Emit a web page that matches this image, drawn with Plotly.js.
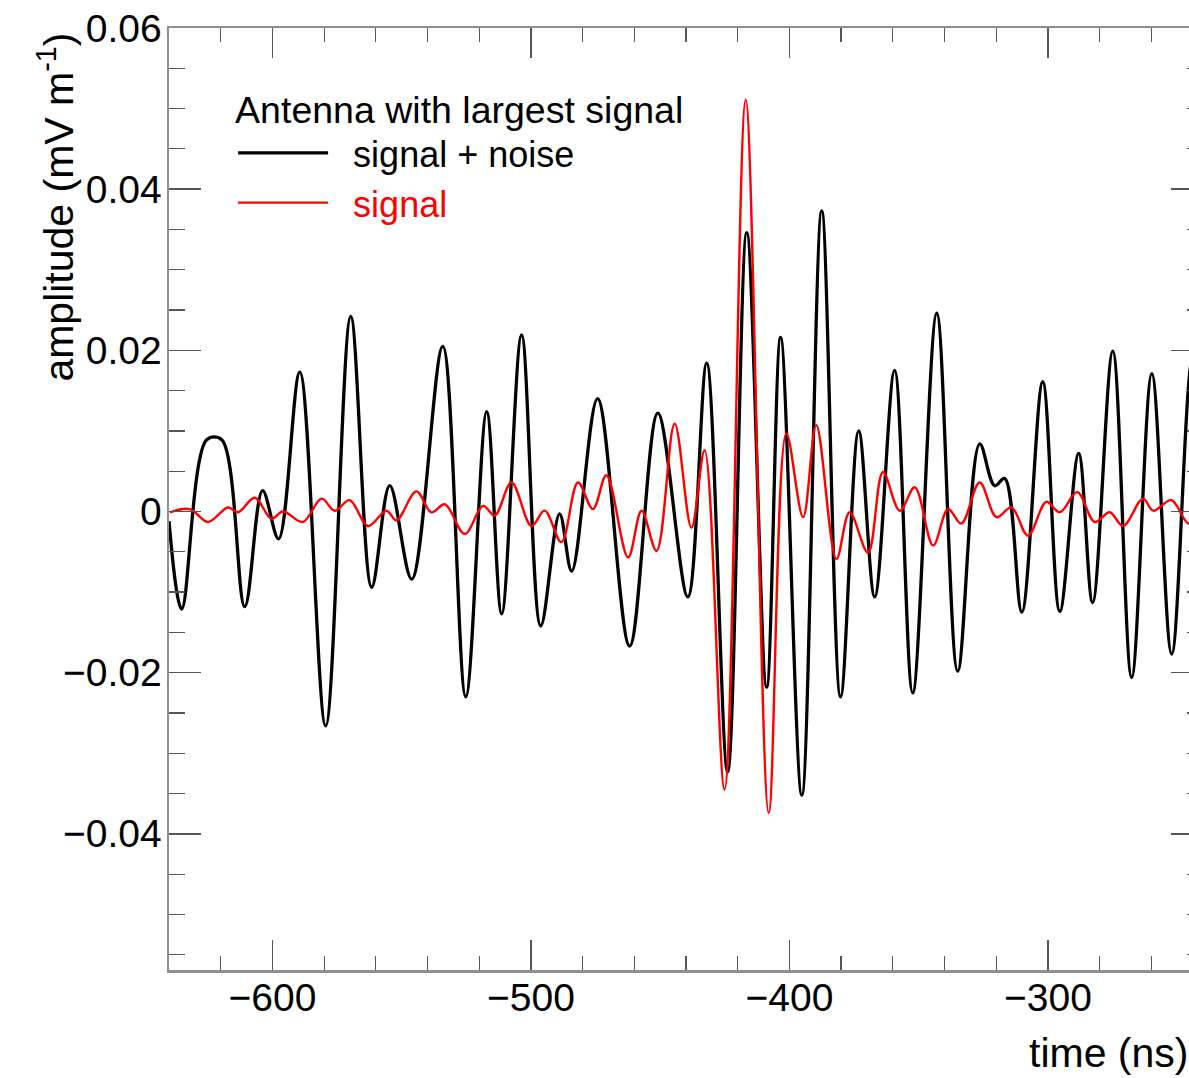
<!DOCTYPE html>
<html>
<head>
<meta charset="utf-8">
<script src="https://cdn.plot.ly/plotly-3.0.1.min.js"></script>
<style>
  html, body { margin: 0; padding: 0; overflow: hidden; background: #fff; }
  #chart { width: 1205px; height: 1078px; }
</style>
</head>
<body>
<div id="chart"></div>
<script>
// time (ns) and amplitude (mV m^-1) of the "signal + noise" trace
const noiseTime = [-640, -635.1, -625.4, -619.6, -610.7, -603.8, -597.6, -589.4, -579.4, -569.7,
  -561.6, -554.6, -546.1, -534.1, -525.2, -517.1, -511.3, -503.6, -496.2, -488.9,
  -484.2, -474.2, -461.8, -450.9, -439.3, -432.0, -423.9, -416.5, -408.8, -403.4,
  -395.2, -387.5, -380.2, -373.2, -367.0, -359.3, -352.3, -343.0, -334.9, -326.4,
  -320.6, -316.7, -310.1, -302.0, -295.4, -288.1, -282.7, -274.9, -267.6, -259.8,
  -252.1, -244.0, -239.5];
const noiseAmp = [-0.0012, -0.0121, 0.0089, 0.0089, -0.0118, 0.0026, -0.0034, 0.0173, -0.0266, 0.0242,
  -0.0094, 0.0032, -0.0084, 0.0205, -0.0230, 0.0124, -0.0127, 0.0219, -0.0142, -0.0003,
  -0.0074, 0.0140, -0.0167, 0.0122, -0.0106, 0.0184, -0.0323, 0.0346, -0.0218, 0.0216,
  -0.0352, 0.0373, -0.0230, 0.0100, -0.0106, 0.0175, -0.0225, 0.0246, -0.0198, 0.0084,
  0.0032, 0.0041, -0.0125, 0.0161, -0.0124, 0.0072, -0.0113, 0.0199, -0.0206, 0.0171,
  -0.0177, 0.0190, 0.0100];

// time (ns) and amplitude (mV m^-1) of the pure "signal" trace
const sigTime = [-639.7, -632.0, -624.9, -617.2, -613.3, -606.8, -600.4, -595.9, -588.2, -581.0,
  -575.9, -570.1, -563.0, -555.9, -552.0, -544.3, -538.5, -533.3, -525.6, -518.5,
  -514.0, -507.5, -499.8, -494.7, -488.2, -481.8, -476.0, -470.8, -462.4, -457.2,
  -451.4, -444.4, -437.9, -432.8, -425.1, -416.9, -408.0, -401.2, -394.7, -389.6,
  -381.8, -376.7, -369.6, -363.8, -357.3, -351.5, -344.4, -338.6, -333.5, -326.4,
  -319.9, -314.1, -307.7, -300.6, -295.4, -288.6, -281.9, -276.1, -270.9, -263.2,
  -259.3, -252.2, -245.5, -240];
const sigAmp = [-0.0001, 0.0003, -0.0013, 0.0005, -0.0001, 0.0017, -0.0009, 0.0000, -0.0013, 0.0016,
  0.0001, 0.0014, -0.0018, 0.0001, -0.0011, 0.0025, -0.0001, 0.0009, -0.0028, 0.0007,
  -0.0005, 0.0036, -0.0018, 0.0001, -0.0038, 0.0036, 0.0003, 0.0045, -0.0057, 0.0001,
  -0.0049, 0.0109, -0.0020, 0.0076, -0.0345, 0.0511, -0.0374, 0.0097, -0.0007, 0.0107,
  -0.0059, -0.0001, -0.0051, 0.0049, 0.0001, 0.0030, -0.0042, 0.0003, -0.0015, 0.0036,
  -0.0007, 0.0005, -0.0030, 0.0012, -0.0001, 0.0024, -0.0013, -0.0001, -0.0018, 0.0016,
  0.0001, 0.0014, -0.0015, -0.0005];

const xTicks = [-600, -500, -400, -300];
const yTicks = [0.06, 0.04, 0.02, 0, -0.02, -0.04];

const legendTitle = 'Antenna with largest signal';
const seriesNames = ['signal + noise', 'signal'];
const xTitle = 'time (ns)';
const yTitle = 'amplitude (mV m<sup>-1</sup>)';

const FONT = '"Liberation Sans", Arial, Helvetica, sans-serif';
const GAP = '\u00a0\u00a0';

const traces = [
  {
    x: noiseTime, y: noiseAmp, type: 'scatter', mode: 'lines',
    name: GAP + seriesNames[0],
    line: { color: '#000000', width: 3.3, shape: 'spline', smoothing: 1 }
  },
  {
    x: sigTime, y: sigAmp, type: 'scatter', mode: 'lines',
    name: GAP + '<span style="color:#ff0000">' + seriesNames[1] + '</span>',
    line: { color: '#ff0000', width: 2.4, shape: 'spline', smoothing: 1 }
  }
];

const axisCommon = {
  showgrid: false, zeroline: false,
  showline: true, linecolor: '#8f8f8f', linewidth: 2.5,
  mirror: 'allticks', ticks: 'inside', tickcolor: '#555555', tickwidth: 1.5,
  tickfont: { family: FONT, size: 39, color: '#000' }
};

const layout = {
  width: 1205, height: 1078,
  margin: { l: 169, r: 2, t: 28, b: 108 },
  paper_bgcolor: '#ffffff', plot_bgcolor: '#ffffff',
  font: { family: FONT, color: '#000' },
  showlegend: true,
  legend: {
    x: 0.062, y: 0.951, xanchor: 'left', yanchor: 'top',
    bgcolor: 'rgba(0,0,0,0)', borderwidth: 0,
    itemwidth: 90,
    font: { family: FONT, size: 36, color: '#000' },
    title: { text: legendTitle, font: { family: FONT, size: 37.5, color: '#000' } },
    tracegroupgap: 0
  },
  xaxis: Object.assign({}, axisCommon, {
    range: [-640, -240],
    tickvals: xTicks,
    ticklen: 30,
    ticklabelstandoff: -8,
    minor: { dtick: 20, ticks: 'inside', ticklen: 14, tickcolor: '#555555', tickwidth: 1.2 }
  }),
  yaxis: Object.assign({}, axisCommon, {
    range: [-0.0569, 0.06],
    tickvals: yTicks,
    ticklen: 32,
    ticklabelstandoff: -3,
    minor: { dtick: 0.005, ticks: 'inside', ticklen: 16, tickcolor: '#555555', tickwidth: 1.2 }
  }),
  annotations: [
    {
      text: xTitle, xref: 'paper', yref: 'paper',
      x: 0.9875, y: -0.088, xanchor: 'right', yanchor: 'middle',
      showarrow: false, font: { family: FONT, size: 41, color: '#000' }
    },
    {
      text: yTitle, xref: 'paper', yref: 'paper', textangle: -90,
      x: -0.109, y: 0.997, xanchor: 'center', yanchor: 'top',
      showarrow: false, font: { family: FONT, size: 41, color: '#000' }
    }
  ]
};

Plotly.newPlot('chart', traces, layout, { displayModeBar: false, staticPlot: true });
</script>
</body>
</html>
